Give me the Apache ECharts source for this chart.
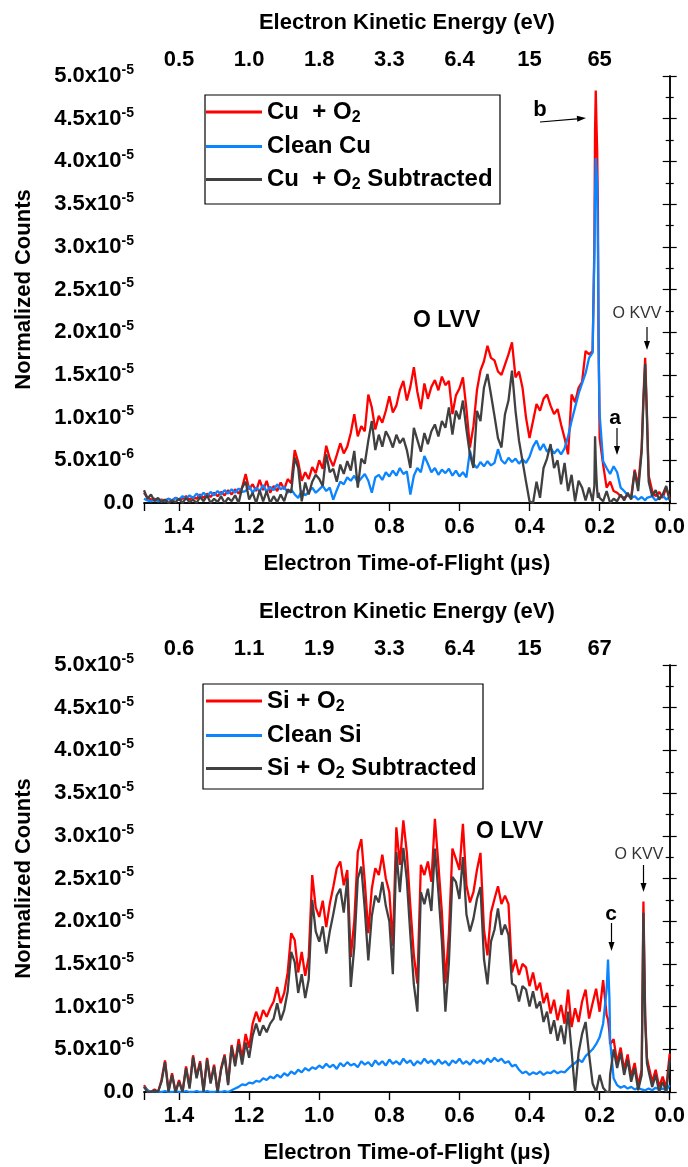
<!DOCTYPE html>
<html>
<head>
<meta charset="utf-8">
<script src="https://cdn.jsdelivr.net/npm/echarts@6/dist/echarts.min.js"></script>
<style>
  html, body { margin: 0; padding: 0; background: #fff; }
  #chart { width: 688px; height: 1167px; }
</style>
</head>
<body>
<div id="chart"></div>
<script>
// time of flight (us), top panel (Cu)
var tofCu = [
  1.50, 1.49, 1.48, 1.47, 1.46, 1.45, 1.44, 1.43, 1.42, 1.41,
  1.40, 1.39, 1.38, 1.37, 1.36, 1.35, 1.34, 1.33, 1.32, 1.31,
  1.30, 1.29, 1.28, 1.27, 1.26, 1.25, 1.24, 1.23, 1.22, 1.21,
  1.20, 1.19, 1.18, 1.17, 1.16, 1.15, 1.14, 1.13, 1.12, 1.11,
  1.10, 1.09, 1.08, 1.07, 1.06, 1.05, 1.04, 1.03, 1.02, 1.01,
  1.00, 0.99, 0.98, 0.97, 0.96, 0.95, 0.94, 0.93, 0.92, 0.91,
  0.90, 0.89, 0.88, 0.87, 0.86, 0.85, 0.84, 0.83, 0.82, 0.81,
  0.80, 0.79, 0.78, 0.77, 0.76, 0.75, 0.74, 0.73, 0.72, 0.71,
  0.70, 0.69, 0.68, 0.67, 0.66, 0.65, 0.64, 0.63, 0.62, 0.61,
  0.60, 0.59, 0.58, 0.57, 0.56, 0.55, 0.54, 0.53, 0.52, 0.51,
  0.50, 0.49, 0.48, 0.47, 0.46, 0.45, 0.44, 0.43, 0.42, 0.41,
  0.40, 0.39, 0.38, 0.37, 0.36, 0.35, 0.34, 0.33, 0.32, 0.31,
  0.30, 0.29, 0.28, 0.27, 0.26, 0.25, 0.24, 0.23, 0.22,
  0.215, 0.213, 0.211, 0.209, 0.207, 0.205, 0.203,
  0.20, 0.19, 0.18, 0.17, 0.16, 0.15, 0.14, 0.13, 0.12, 0.11, 0.10, 0.09, 0.08,
  0.075, 0.07, 0.065,
  0.06, 0.05, 0.04, 0.03, 0.02, 0.01, 0.00
];
// counts in units of 1e-6
var cuO2 = [
  1.2, 0.6, 0.4, 0.5, 0.3, 0.4, 0.3, 0.5, 0.3, 0.6,
  0.4, 0.5, 0.8, 0.4, 0.7, 0.5, 1.0, 0.6, 1.1, 0.7,
  1.2, 0.8, 1.3, 0.9, 1.5, 1.0, 1.6, 1.1, 1.8, 3.4,
  1.6, 2.2, 1.4, 2.7, 1.5, 2.6, 1.2, 2.0, 1.4, 2.4,
  1.6, 2.8, 2.3, 6.2, 4.8, 2.6, 3.6, 2.8, 4.2, 3.5,
  5.0, 4.0, 6.7, 5.2, 4.3, 5.6, 7.0, 5.8, 6.6, 8.2,
  10.4, 7.8, 9.0, 8.4, 12.7, 11.2, 8.6, 10.2, 9.4, 10.8,
  12.5, 10.6, 11.4, 13.2, 14.3, 12.0, 13.6, 15.9, 13.0, 11.0,
  14.0, 12.2, 13.6, 14.4, 13.2, 14.8, 13.8, 14.3, 10.4, 12.6,
  13.4, 14.7, 11.0, 6.5, 9.0, 13.2, 15.5, 16.6, 18.4, 17.0,
  16.7, 15.4, 15.0, 16.2, 17.4, 18.8, 14.7, 15.4, 13.5, 10.0,
  7.6, 9.6, 11.6, 10.8, 12.2, 12.7, 11.4, 10.4, 11.0, 9.2,
  7.6, 5.7, 12.7, 11.8, 13.5, 14.2, 17.8, 17.4, 17.8,
  30.0, 43.7, 48.3, 44.5, 41.3, 35.0, 20.0,
  7.6, 4.5, 1.8, 2.5, 1.4, 1.2, 0.8, 0.6, 0.9, 0.7, 3.9, 2.0, 6.5,
  12.5, 17.0, 10.6,
  3.2, 1.4, 0.8, 1.3, 0.6, 1.8, 0.5
];
var cuClean = [
  0.5, 0.3, 0.2, 0.4, 0.2, 0.3, 0.2, 0.5, 0.3, 0.6,
  0.4, 0.8, 0.5, 0.9, 0.6, 1.1, 0.7, 1.2, 0.8, 1.3,
  0.9, 1.4, 1.0, 1.5, 1.1, 1.6, 1.2, 1.7, 1.3, 1.4,
  2.0, 1.2, 1.8, 1.4, 2.1, 1.3, 1.9, 1.5, 2.2, 1.6,
  1.9, 1.2, 1.6, 1.0, 0.6, 1.4, 0.9, 1.3, 1.8, 1.2,
  1.6, 2.0, 1.4, 1.8, 0.4, 1.5, 2.5, 2.2, 3.0, 2.6,
  3.2, 2.4, 2.9, 3.4, 2.6, 1.2, 3.0, 3.3, 2.7, 3.6,
  3.1, 3.8, 3.2, 4.1, 3.4, 3.7, 1.0, 3.2, 4.1, 3.6,
  5.5, 4.6, 3.6, 4.1, 3.3, 3.9, 3.5, 4.0, 3.2, 3.8,
  3.1, 3.6, 3.0, 6.1, 4.6, 4.1, 4.8, 4.3, 4.9, 4.4,
  4.7, 6.3, 5.0, 4.6, 5.3, 4.8, 5.2, 4.6, 5.1, 4.7,
  5.4, 6.6, 7.3, 6.2, 6.9, 6.0, 6.5, 5.8, 6.3, 5.7,
  6.4, 7.8, 9.6, 11.2, 12.8, 14.0, 15.2, 17.0, 17.6,
  29.0, 36.0, 40.4, 39.0, 37.5, 31.0, 18.0,
  10.4, 4.9, 4.1, 3.4, 4.3, 3.6, 1.8, 1.4, 0.9, 0.6, 0.8, 0.4, 0.7,
  0.5, 0.3, 0.6,
  0.4, 0.8, 0.3, 0.6, 0.9, 0.4, 0.7
];
var cuSub = [
  1.5, 0.5, 1.0, 0.2, 0.6, 0.1, 0.4, 0.0, 0.3, 0.1,
  0.5, 0.0, 0.6, 0.1, 0.4, 0.0, 0.7, 0.2, 0.9, 0.0,
  0.5, 0.1, 0.8, 0.0, 0.6, 0.2, 0.9, 0.0, 1.8, 2.5,
  0.4, 1.2, 0.0, 1.5, 0.2, 1.4, 0.0, 0.8, 0.1, 1.0,
  0.2, 1.6, 1.2, 5.3, 4.1, 0.2, 2.4, 1.0, 2.5, 3.3,
  2.8, 2.0, 5.7, 3.6, 4.0, 2.5, 4.5, 3.4, 4.9, 3.8,
  6.1, 1.8, 5.2, 4.6, 7.3, 9.6, 6.2, 8.0, 6.6, 8.4,
  7.6, 6.5, 8.0, 7.0, 7.6, 6.2, 4.1, 8.8, 7.4, 6.0,
  8.2, 6.9, 8.4, 9.2, 7.8, 9.6, 8.8, 11.2, 8.0, 10.8,
  9.8, 12.0, 8.6, 5.7, 4.1, 10.8, 9.6, 13.5, 15.1, 12.7,
  10.2, 7.6, 6.5, 10.4, 12.0, 15.5, 10.8, 7.3, 4.9, 2.5,
  0.2, 0.0, 2.5, 0.6, 4.1, 5.2, 6.9, 4.1, 5.0, 2.2,
  4.7, 1.4, 3.3, 0.2, 2.6, 1.8, 0.3, 1.8, 0.2,
  2.0, 7.8, 5.0, 3.0, 1.5, 0.6, 1.2,
  0.6, 0.2, 1.4, 0.0, 0.5, 0.2, 1.0, 0.3, 1.2, 0.4, 3.7, 1.4, 6.0,
  11.8, 16.3, 10.0,
  2.5, 0.8, 1.5, 0.4, 1.0, 2.0, 0.3
];

// time of flight (us), bottom panel (Si)
var tofSi = [
  1.50, 1.49, 1.48, 1.47, 1.46, 1.45, 1.44, 1.43, 1.42, 1.41,
  1.40, 1.39, 1.38, 1.37, 1.36, 1.35, 1.34, 1.33, 1.32, 1.31,
  1.30, 1.29, 1.28, 1.27, 1.26, 1.25, 1.24, 1.23, 1.22, 1.21,
  1.20, 1.19, 1.18, 1.17, 1.16, 1.15, 1.14, 1.13, 1.12, 1.11,
  1.10, 1.09, 1.08, 1.07, 1.06, 1.05, 1.04, 1.03, 1.02, 1.01,
  1.00, 0.99, 0.98, 0.97, 0.96, 0.95, 0.94, 0.93, 0.92, 0.91,
  0.90, 0.89, 0.88, 0.87, 0.86, 0.85, 0.84, 0.83, 0.82, 0.81,
  0.80, 0.79, 0.78, 0.77, 0.76, 0.75, 0.74, 0.73, 0.72, 0.71,
  0.70, 0.69, 0.68, 0.67, 0.66, 0.65, 0.64, 0.63, 0.62, 0.61,
  0.60, 0.59, 0.58, 0.57, 0.56, 0.55, 0.54, 0.53, 0.52, 0.51,
  0.50, 0.49, 0.48, 0.47, 0.46, 0.45, 0.44, 0.43, 0.42, 0.41,
  0.40, 0.39, 0.38, 0.37, 0.36, 0.35, 0.34, 0.33, 0.32, 0.31,
  0.30, 0.29, 0.28, 0.27, 0.26, 0.25, 0.24, 0.23, 0.22, 0.21, 0.20, 0.19, 0.18,
  0.176, 0.172,
  0.17, 0.16, 0.15, 0.14, 0.13, 0.12, 0.11, 0.10, 0.09, 0.08,
  0.075, 0.07, 0.065,
  0.06, 0.05, 0.04, 0.03, 0.02, 0.01, 0.00
];
var siO2 = [
  0.8, 0.2, 0.0, 0.3, 0.0, 1.4, 3.7, 0.2, 2.2, 0.0,
  1.4, 0.0, 3.0, 0.6, 4.3, 1.8, 3.6, 0.2, 4.0, 1.2,
  3.2, 0.0, 2.8, 4.4, 1.0, 5.5, 3.4, 6.2, 4.0, 6.8,
  5.2, 8.0, 9.4, 8.2, 9.6, 8.8, 9.8, 10.6, 12.3, 10.4,
  11.6, 14.0, 18.6, 17.8, 14.0, 16.4, 13.6, 15.8, 25.4, 21.6,
  20.5, 22.4, 19.3, 22.0, 24.0, 26.2, 27.0, 24.2, 26.0, 15.8,
  20.0, 28.1, 29.6, 24.6, 18.6, 23.8, 26.2, 25.4, 27.8, 25.0,
  23.4, 17.1, 31.0, 26.6, 31.8, 28.0, 21.7, 16.0, 12.7, 26.6,
  25.4, 27.0, 24.6, 32.0, 26.6, 21.0, 12.7, 18.6, 28.5, 27.3,
  26.0, 31.4, 24.2, 22.2, 23.4, 26.0, 28.0, 19.0, 16.0, 21.0,
  22.6, 24.1, 22.0, 23.0, 22.0, 14.0, 15.5, 13.7, 15.0, 14.6,
  12.4, 14.0, 11.9, 12.8, 10.4, 11.6, 9.2, 10.8, 8.4, 10.2,
  8.0, 12.0, 7.6, 9.8, 8.2, 10.6, 12.0, 8.6, 10.4, 12.1, 9.4, 13.1, 9.0,
  8.5, 7.0,
  5.6, 6.2, 3.4, 5.2, 2.6, 4.4, 1.8, 3.4, 0.8, 2.6,
  22.3, 9.0, 4.0,
  3.0, 1.2, 2.6, 0.6, 1.8, 0.4, 4.5
];
var siClean = [
  0.6, 0.2, 0.0, 0.1, 0.0, 0.0, 0.1, 0.0, 0.0, 0.1,
  0.0, 0.0, 0.1, 0.0, 0.0, 0.1, 0.0, 0.0, 0.1, 0.0,
  0.0, 0.1, 0.0, 0.1, 0.0, 0.2, 0.4, 0.6, 0.9, 0.8,
  1.1, 1.0, 1.3, 1.2, 1.6, 1.4, 1.8, 1.6, 2.0, 1.7,
  2.2, 1.9, 2.4, 2.1, 2.6, 2.3, 2.8, 2.5, 2.9, 2.7,
  3.1, 2.8, 3.3, 2.9, 3.2, 2.7, 3.4, 3.0, 3.5, 3.1,
  3.3, 2.9, 3.6, 3.2, 3.5, 3.0, 3.7, 3.2, 3.6, 3.1,
  3.8, 3.3, 3.6, 3.2, 3.9, 3.4, 3.7, 3.1, 3.6, 3.3,
  3.9, 3.4, 3.7, 3.2, 3.8, 3.3, 3.6, 3.1, 3.7, 3.4,
  3.9, 3.3, 3.6, 3.2, 3.8, 3.4, 3.7, 3.3, 3.9, 3.5,
  4.0, 3.6, 3.9, 3.4, 3.6, 3.0, 3.2, 2.6, 2.2, 2.4,
  2.0, 2.3, 2.1, 2.4, 2.0, 2.3, 2.2, 2.5, 2.2, 2.4,
  2.3, 2.7, 3.1, 3.4, 3.8, 3.5, 4.2, 4.6, 5.0, 5.6, 6.4, 8.0, 12.0,
  15.5, 11.0,
  6.0, 1.6, 0.8, 0.5, 0.7, 0.4, 0.6, 0.3, 0.5, 0.3,
  0.4, 0.2, 0.3,
  0.4, 0.2, 0.5, 0.3, 0.4, 0.2, 0.8
];
var siSub = [
  0.6, 0.0, 0.0, 0.2, 0.0, 1.2, 3.5, 0.0, 2.0, 0.0,
  1.2, 0.0, 2.8, 0.4, 4.1, 1.6, 3.4, 0.0, 3.8, 1.0,
  3.0, 0.0, 2.6, 4.2, 0.8, 5.3, 3.0, 5.6, 3.2, 5.8,
  4.0, 6.6, 8.0, 6.6, 7.8, 7.0, 8.0, 8.6, 10.4, 8.4,
  9.6, 11.8, 16.4, 15.2, 11.6, 13.8, 11.0, 13.2, 22.5, 18.8,
  17.6, 19.4, 16.2, 18.8, 20.8, 23.0, 23.8, 21.0, 25.0, 12.3,
  17.0, 25.0, 26.4, 21.4, 15.4, 20.6, 23.0, 22.2, 24.6, 21.8,
  20.0, 13.8, 28.1, 23.4, 28.6, 24.8, 18.4, 12.6, 9.4, 23.4,
  22.0, 23.8, 21.2, 28.5, 23.4, 17.6, 9.4, 15.2, 25.2, 24.6,
  22.6, 27.5, 20.8, 18.8, 20.3, 22.6, 24.0, 15.6, 12.6, 17.6,
  19.0, 21.5, 18.4, 19.6, 18.4, 12.7, 12.4, 10.6, 12.4, 12.0,
  10.0, 11.8, 9.8, 10.6, 8.2, 9.4, 6.8, 8.4, 6.0, 7.8,
  5.6, 9.4, 4.8, 0.0, 4.6, 6.8, 8.2, 4.4, 1.0, 0.0, 2.0, 0.5, 0.0,
  0.0, 0.0,
  2.0, 5.0, 2.8, 4.6, 2.0, 3.8, 1.2, 2.8, 0.2, 2.0,
  21.0, 8.4, 3.4,
  2.4, 0.6, 2.0, 0.0, 1.2, 0.0, 3.8
];

// top axis: kinetic energy at the TOF tick positions
var tofTicks = [1.4, 1.2, 1.0, 0.8, 0.6, 0.4, 0.2];
var energyCu = ['0.5', '1.0', '1.8', '3.3', '6.4', '15', '65'];
var energySi = ['0.6', '1.1', '1.9', '3.3', '6.4', '15', '67'];

var RED = '#ff0000', BLUE = '#0a84ff', DARK = '#404040';
var FONT = 'Arial, "Liberation Sans", sans-serif';

function pairs(xs, ys) {
    return xs.map(function (x, i) { return [x, ys[i]]; });
}

function yLabel(v) {
    if (v === 0) return '0.0';
    if (v < 10) return v.toFixed(1) + 'x10{s|-6}';
    return (v / 10).toFixed(1) + 'x10{s|-5}';
}

function makeX(gi, energy) {
    var line = { show: true, lineStyle: { color: '#000', width: 1.5 } };
    return [{
        type: 'value', gridIndex: gi, position: 'bottom', min: 0, max: 1.5, interval: 0.2, inverse: true,
        axisLine: line,
        axisTick: { show: true, inside: false, length: 8, lineStyle: { color: '#000', width: 1.2 } },
        splitLine: { show: false },
        axisLabel: { margin: 13, color: '#000', fontSize: 22, fontWeight: 'bold', fontFamily: FONT,
            formatter: function (v) { return v > 1.45 ? '' : v.toFixed(1); } },
        name: 'Electron Time-of-Flight (μs)', nameLocation: 'middle', nameGap: 50,
        nameTextStyle: { color: '#000', fontSize: 22, fontWeight: 'bold', fontFamily: FONT }
    }, {
        type: 'value', gridIndex: gi, position: 'top', min: 0, max: 1.5, interval: 0.2, inverse: true,
        axisLine: line,
        axisTick: { show: true, inside: true, length: 8, lineStyle: { color: '#000', width: 1.2 } },
        splitLine: { show: false },
        axisLabel: { margin: 5, color: '#000', fontSize: 22, fontWeight: 'bold', fontFamily: FONT,
            formatter: function (v) {
                for (var i = 0; i < tofTicks.length; i++) {
                    if (Math.abs(tofTicks[i] - v) < 1e-6) return energy[i];
                }
                return '';
            } },
        name: 'Electron Kinetic Energy (eV)', nameLocation: 'middle', nameGap: 42,
        nameTextStyle: { color: '#000', fontSize: 22, fontWeight: 'bold', fontFamily: FONT }
    }];
}

function makeY(gi) {
    var tick = { show: true, inside: true, length: 7, lineStyle: { color: '#000', width: 1.2 } };
    var minor = { show: true, splitNumber: 2, length: 4, lineStyle: { color: '#000', width: 1.2 } };
    return [{
        type: 'value', gridIndex: gi, position: 'left', min: 0, max: 50, interval: 5,
        axisLine: { show: true, lineStyle: { color: '#000', width: 1.5 } },
        axisTick: tick, minorTick: minor,
        splitLine: { show: false },
        axisLabel: { margin: 10, color: '#000', fontSize: 22, fontWeight: 'bold', fontFamily: FONT,
            formatter: yLabel,
            rich: { s: { fontSize: 14, fontWeight: 'bold', fontFamily: FONT, color: '#000', padding: [0, 0, 12, 0] } } },
        name: 'Normalized Counts', nameLocation: 'middle', nameGap: 109,
        nameTextStyle: { color: '#000', fontSize: 22, fontWeight: 'bold', fontFamily: FONT }
    }, {
        type: 'value', gridIndex: gi, position: 'right', min: 0, max: 50, interval: 5,
        axisLine: { show: true, lineStyle: { color: '#000', width: 1.5 } },
        axisTick: tick, minorTick: minor,
        splitLine: { show: false },
        axisLabel: { show: false }
    }];
}

function makeSeries(name, xs, ys, color, axisBase) {
    return {
        name: name, type: 'line', xAxisIndex: axisBase, yAxisIndex: axisBase,
        data: pairs(xs, ys), symbol: 'none', animation: false,
        lineStyle: { color: color, width: 2.3 }, itemStyle: { color: color }
    };
}

function makeLegend(names, left, top) {
    return {
        data: names, left: left, top: top, orient: 'vertical', padding: 0,
        icon: 'rect', itemWidth: 56, itemHeight: 3, itemGap: 9,
        selectedMode: false,
        formatter: function (n) { return n.replace('O2', 'O{sub|2}'); },
        textStyle: { color: '#000', fontSize: 24, fontWeight: 'bold', fontFamily: FONT,
            rich: { sub: { fontSize: 16, fontWeight: 'bold', fontFamily: FONT, color: '#000', padding: [11, 0, 0, 0] } } }
    };
}

function arrow(x1, y1, x2, y2) {
    var a = Math.atan2(y2 - y1, x2 - x1), len = 9, w = 3;
    var bx = x2 - len * Math.cos(a), by = y2 - len * Math.sin(a);
    return [{
        type: 'line', shape: { x1: x1, y1: y1, x2: bx, y2: by },
        style: { stroke: '#000', lineWidth: 1.2 }
    }, {
        type: 'polygon',
        shape: { points: [[x2, y2], [bx - w * Math.sin(a), by + w * Math.cos(a)], [bx + w * Math.sin(a), by - w * Math.cos(a)]] },
        style: { fill: '#000' }
    }];
}

function label(text, x, y, size, bold, align, color) {
    return {
        type: 'text', x: x, y: y,
        style: { text: text, fill: color || '#000', fontSize: size, fontWeight: bold ? 'bold' : 'normal',
            fontFamily: FONT, align: align || 'center', verticalAlign: 'middle' }
    };
}

var graphics = [
    { type: 'rect', shape: { x: 205, y: 95, width: 295, height: 109 }, style: { fill: 'none', stroke: '#000', lineWidth: 1.2 } },
    { type: 'rect', shape: { x: 203, y: 684, width: 280, height: 105 }, style: { fill: 'none', stroke: '#000', lineWidth: 1.2 } },
    label('b', 540, 110, 22, true),
    label('O LVV', 413, 321, 23, true, 'left'),
    label('O KVV', 637, 314, 16, false, 'center', '#333'),
    label('a', 615, 418, 21, true),
    label('O LVV', 476, 832, 23, true, 'left'),
    label('O KVV', 639, 855, 16, false, 'center', '#333'),
    label('c', 611, 914, 21, true)
].concat(
    arrow(540, 122, 586, 118),
    arrow(647, 327, 647, 350),
    arrow(617, 428, 617, 455),
    arrow(643.5, 865, 643.5, 892),
    arrow(611.5, 923, 611.5, 951)
);

var chart = echarts.init(document.getElementById('chart'), null, { renderer: 'canvas' });
chart.setOption({
    backgroundColor: '#fff',
    animation: false,
    grid: [
        { left: 144, top: 76, width: 529, height: 427 },
        { left: 144, top: 665, width: 529, height: 427 }
    ],
    xAxis: [].concat(makeX(0, energyCu), makeX(1, energySi)),
    yAxis: [].concat(makeY(0), makeY(1)),
    legend: [
        makeLegend(['Cu  + O2', 'Clean Cu', 'Cu  + O2 Subtracted'], 206, 100),
        makeLegend(['Si + O2', 'Clean Si', 'Si + O2 Subtracted'], 206, 689)
    ],
    graphic: graphics,
    series: [
        makeSeries('Cu  + O2', tofCu, cuO2, RED, 0),
        makeSeries('Clean Cu', tofCu, cuClean, BLUE, 0),
        makeSeries('Cu  + O2 Subtracted', tofCu, cuSub, DARK, 0),
        makeSeries('Si + O2', tofSi, siO2, RED, 2),
        makeSeries('Clean Si', tofSi, siClean, BLUE, 2),
        makeSeries('Si + O2 Subtracted', tofSi, siSub, DARK, 2)
    ]
});
</script>
</body>
</html>
